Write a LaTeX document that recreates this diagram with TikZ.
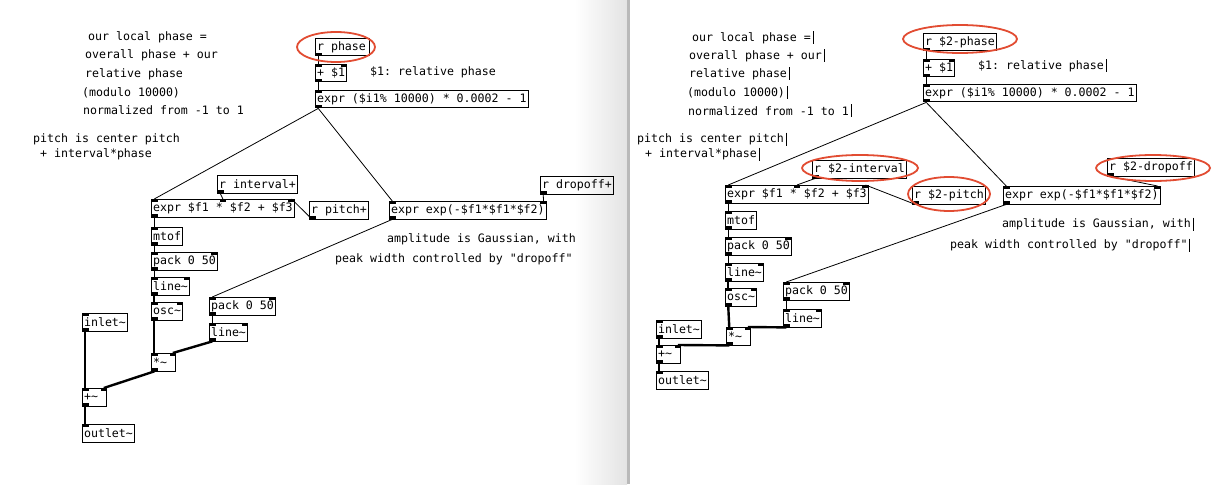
\documentclass[tikz,border=0pt]{standalone}
\usepackage{fontspec}
\newfontfamily\pdtt{DejaVu Sans Mono}
\definecolor{hlred}{RGB}{226,76,50}
\newcommand\pdInL[1]{\fill (#1.north west) rectangle ++(6.5,3);}
\newcommand\pdInR[1]{\fill (#1.north east) rectangle ++(-6.5,3);}
\newcommand\pdInM[1]{\fill ([xshift=-3.25pt]#1.north) rectangle ++(6.5,3);}
\newcommand\pdOutL[1]{\fill (#1.south west) rectangle ++(6.5,-3);}
\newcommand\tl{\textasciitilde}
\frenchspacing
\begin{document}
\begin{tikzpicture}[x=1pt,y=-1pt,
  pdbox/.style={draw, line width=0.9pt, font=\pdtt\fontsize{11.6}{14}\selectfont, inner xsep=1.6pt, inner ysep=0pt, minimum height=17.5pt, anchor=north west},
  pdcom/.style={font=\pdtt\fontsize{11.6}{14}\selectfont, inner sep=0pt, anchor=west},
  ctl/.style={line width=0.8pt},
  sig/.style={line width=2.4pt},
  hl/.style={draw=hlred, line width=1.8pt},
  editbar/.style={line width=0.8pt}]
\useasboundingbox (0,0) rectangle (1222,484);
\fill[white] (0,0) rectangle (1222,484);
\shade[left color=white, right color=gray!22] (575,0) rectangle (627,484);
\fill[gray!55] (627,0) rectangle (630,484);

% ---------------- left panel ----------------
\node[pdcom] (Lc1) at (88,37) {our local phase =};
\node[pdcom] (Lc2) at (85,55) {overall phase + our};
\node[pdcom] (Lc3) at (85,74) {relative phase};
\node[pdcom] (Lc4) at (82,93) {(modulo 10000)};
\node[pdcom] (Lc5) at (83,110) {normalized from -1 to 1};
\node[pdcom] (Lc6) at (33,139) {pitch is center pitch};
\node[pdcom] (Lc7) at (40,154) {+ interval*phase};
\node[pdcom] (Lc8) at (370,72) {\$1: relative phase};
\node[pdcom] (Lc9) at (387,239) {amplitude is Gaussian, with};
\node[pdcom] (Lc10) at (335,259) {peak width controlled by "dropoff"};

\node[pdbox] (Lrph) at (315,38) {r phase\,};
\node[pdbox] (Lplus) at (315,64) {+ \$1};
\node[pdbox] (Lexpr) at (315,90) {expr (\$i1\% 10000) * 0.0002 - 1};
\node[pdbox] (Lint) at (217,175) {r interval+};
\node[pdbox] (Lef) at (151,199) {expr \$f1 * \$f2 + \$f3};
\node[pdbox] (Lpit) at (309,201) {r pitch+};
\node[pdbox] (Lexp) at (389,201) {expr exp(-\$f1*\$f1*\$f2)};
\node[pdbox] (Ldrop) at (540,176) {r dropoff+};
\node[pdbox] (Lmtof) at (151,227) {mtof};
\node[pdbox] (Lpack) at (151,252) {pack 0 50};
\node[pdbox] (Lline) at (151,277) {line\tl};
\node[pdbox] (Losc) at (151,302) {osc\tl};
\node[pdbox] (Lpack2) at (209,297) {pack 0 50};
\node[pdbox] (Lline2) at (209,323) {line\tl};
\node[pdbox] (Linl) at (82,313) {inlet\tl};
\node[pdbox] (Lmul) at (151,353) {*\tl\phantom{x}};
\node[pdbox] (Ladd) at (82,388) {+\tl\phantom{x}};
\node[pdbox] (Lout) at (82,424) {outlet\tl};

\pdOutL{Lrph}
\pdInL{Lplus}\pdInR{Lplus}\pdOutL{Lplus}
\pdInL{Lexpr}\pdOutL{Lexpr}
\pdOutL{Lint}
\pdInL{Lef}\pdInM{Lef}\pdInR{Lef}\pdOutL{Lef}
\pdOutL{Lpit}
\pdInL{Lexp}\pdInR{Lexp}\pdOutL{Lexp}
\pdOutL{Ldrop}
\pdInL{Lmtof}\pdOutL{Lmtof}
\pdInL{Lpack}\pdInR{Lpack}\pdOutL{Lpack}
\pdInL{Lline}\pdInR{Lline}\pdOutL{Lline}
\pdInL{Losc}\pdInR{Losc}\pdOutL{Losc}
\pdInL{Lpack2}\pdInR{Lpack2}\pdOutL{Lpack2}
\pdInL{Lline2}\pdInR{Lline2}\pdOutL{Lline2}
\pdInL{Linl}\pdOutL{Linl}
\pdInL{Lmul}\pdInR{Lmul}\pdOutL{Lmul}
\pdInL{Ladd}\pdInR{Ladd}\pdOutL{Ladd}
\pdInL{Lout}

\draw[ctl] ([xshift=3.25pt]Lrph.south west) -- ([xshift=3.25pt]Lplus.north west);
\draw[ctl] ([xshift=3.25pt]Lplus.south west) -- ([xshift=3.25pt]Lexpr.north west);
\draw[ctl] ([xshift=3.25pt]Lexpr.south west) -- ([xshift=3.25pt]Lef.north west);
\draw[ctl] ([xshift=3.25pt]Lexpr.south west) -- ([xshift=3.25pt]Lexp.north west);
\draw[ctl] ([xshift=3.25pt]Lint.south west) -- (Lef.north);
\draw[ctl] ([xshift=3.25pt]Lpit.south west) -- ([xshift=-3.25pt]Lef.north east);
\draw[ctl] ([xshift=3.25pt]Ldrop.south west) -- ([xshift=-3.25pt]Lexp.north east);
\draw[ctl] ([xshift=3.25pt]Lef.south west) -- ([xshift=3.25pt]Lmtof.north west);
\draw[ctl] ([xshift=3.25pt]Lmtof.south west) -- ([xshift=3.25pt]Lpack.north west);
\draw[ctl] ([xshift=3.25pt]Lpack.south west) -- ([xshift=3.25pt]Lline.north west);
\draw[ctl] ([xshift=3.25pt]Lexp.south west) -- ([xshift=3.25pt]Lpack2.north west);
\draw[ctl] ([xshift=3.25pt]Lpack2.south west) -- ([xshift=3.25pt]Lline2.north west);
\draw[sig] ([xshift=3.25pt]Lline.south west) -- ([xshift=3.25pt]Losc.north west);
\draw[sig] ([xshift=3.25pt]Losc.south west) -- ([xshift=3.25pt]Lmul.north west);
\draw[sig] ([xshift=3.25pt]Lline2.south west) -- ([xshift=-3.25pt]Lmul.north east);
\draw[sig] ([xshift=3.25pt]Lmul.south west) -- ([xshift=-3.25pt]Ladd.north east);
\draw[sig] ([xshift=3.25pt]Linl.south west) -- ([xshift=3.25pt]Ladd.north west);
\draw[sig] ([xshift=3.25pt]Ladd.south west) -- ([xshift=3.25pt]Lout.north west);

\draw[hl] (336,47) ellipse [x radius=39pt, y radius=15pt];

% ---------------- right panel ----------------
\node[pdcom] (Rc1) at (692,38) {our local phase =};
\node[pdcom] (Rc2) at (689,56) {overall phase + our};
\node[pdcom] (Rc3) at (689,74) {relative phase};
\node[pdcom] (Rc4) at (687,93) {(modulo 10000)};
\node[pdcom] (Rc5) at (688,111) {normalized from -1 to 1};
\node[pdcom] (Rc6) at (637,139) {pitch is center pitch};
\node[pdcom] (Rc7) at (645,154) {+ interval*phase};
\node[pdcom] (Rc8) at (978,66) {\$1: relative phase};
\node[pdcom] (Rc9) at (1002,224) {amplitude is Gaussian, with};
\node[pdcom] (Rc10) at (950,245) {peak width controlled by "dropoff"};
\foreach \c in {Rc1,Rc2,Rc3,Rc4,Rc5,Rc6,Rc7,Rc8,Rc9,Rc10}
  \draw[editbar] ([xshift=2pt]\c.east) ++(0,-6.5) -- ++(0,13);

\node[pdbox] (Rrph) at (923,33) {r \$2-phase};
\node[pdbox] (Rplus) at (923,59) {+ \$1};
\node[pdbox] (Rexpr) at (923,84) {expr (\$i1\% 10000) * 0.0002 - 1};
\node[pdbox] (Rint) at (812,160) {r \$2-interval};
\node[pdbox] (Ref) at (725,185) {expr \$f1 * \$f2 + \$f3};
\node[pdbox] (Rpit) at (912,186) {r \$2-pitch};
\node[pdbox] (Rexp) at (1003,186) {expr exp(-\$f1*\$f1*\$f2)};
\node[pdbox] (Rdrop) at (1107,158) {r \$2-dropoff};
\node[pdbox] (Rmtof) at (725,211) {mtof};
\node[pdbox] (Rpack) at (725,237) {pack 0 50};
\node[pdbox] (Rline) at (725,263) {line\tl};
\node[pdbox] (Rosc) at (725,288) {osc\tl};
\node[pdbox] (Rpack2) at (783,282) {pack 0 50};
\node[pdbox] (Rline2) at (783,309) {line\tl};
\node[pdbox] (Rinl) at (656,320) {inlet\tl};
\node[pdbox] (Rmul) at (726,327) {*\tl\phantom{x}};
\node[pdbox] (Radd) at (656,345) {+\tl\phantom{x}};
\node[pdbox] (Rout) at (656,371) {outlet\tl};

\pdOutL{Rrph}
\pdInL{Rplus}\pdInR{Rplus}\pdOutL{Rplus}
\pdInL{Rexpr}\pdOutL{Rexpr}
\pdOutL{Rint}
\pdInL{Ref}\pdInM{Ref}\pdInR{Ref}\pdOutL{Ref}
\pdOutL{Rpit}
\pdInL{Rexp}\pdInR{Rexp}\pdOutL{Rexp}
\pdOutL{Rdrop}
\pdInL{Rmtof}\pdOutL{Rmtof}
\pdInL{Rpack}\pdInR{Rpack}\pdOutL{Rpack}
\pdInL{Rline}\pdInR{Rline}\pdOutL{Rline}
\pdInL{Rosc}\pdInR{Rosc}\pdOutL{Rosc}
\pdInL{Rpack2}\pdInR{Rpack2}\pdOutL{Rpack2}
\pdInL{Rline2}\pdInR{Rline2}\pdOutL{Rline2}
\pdInL{Rinl}\pdOutL{Rinl}
\pdInL{Rmul}\pdInR{Rmul}\pdOutL{Rmul}
\pdInL{Radd}\pdInR{Radd}\pdOutL{Radd}
\pdInL{Rout}

\draw[ctl] ([xshift=3.25pt]Rrph.south west) -- ([xshift=3.25pt]Rplus.north west);
\draw[ctl] ([xshift=3.25pt]Rplus.south west) -- ([xshift=3.25pt]Rexpr.north west);
\draw[ctl] ([xshift=3.25pt]Rexpr.south west) -- ([xshift=3.25pt]Ref.north west);
\draw[ctl] ([xshift=3.25pt]Rexpr.south west) -- ([xshift=3.25pt]Rexp.north west);
\draw[ctl] ([xshift=3.25pt]Rint.south west) -- (Ref.north);
\draw[ctl] ([xshift=3.25pt]Rpit.south west) -- ([xshift=-3.25pt]Ref.north east);
\draw[ctl] ([xshift=3.25pt]Rdrop.south west) -- ([xshift=-3.25pt]Rexp.north east);
\draw[ctl] ([xshift=3.25pt]Ref.south west) -- ([xshift=3.25pt]Rmtof.north west);
\draw[ctl] ([xshift=3.25pt]Rmtof.south west) -- ([xshift=3.25pt]Rpack.north west);
\draw[ctl] ([xshift=3.25pt]Rpack.south west) -- ([xshift=3.25pt]Rline.north west);
\draw[ctl] ([xshift=3.25pt]Rexp.south west) -- ([xshift=3.25pt]Rpack2.north west);
\draw[ctl] ([xshift=3.25pt]Rpack2.south west) -- ([xshift=3.25pt]Rline2.north west);
\draw[sig] ([xshift=3.25pt]Rline.south west) -- ([xshift=3.25pt]Rosc.north west);
\draw[sig] ([xshift=3.25pt]Rosc.south west) -- ([xshift=3.25pt]Rmul.north west);
\draw[sig] ([xshift=3.25pt]Rline2.south west) -- ([xshift=-3.25pt]Rmul.north east);
\draw[sig] ([xshift=3.25pt]Rmul.south west) -- ([xshift=-3.25pt]Radd.north east);
\draw[sig] ([xshift=3.25pt]Rinl.south west) -- ([xshift=3.25pt]Radd.north west);
\draw[sig] ([xshift=3.25pt]Radd.south west) -- ([xshift=3.25pt]Rout.north west);

\draw[hl] (960,39) ellipse [x radius=57pt, y radius=14pt];
\draw[hl] (860,168) ellipse [x radius=58pt, y radius=13pt];
\draw[hl] (949,194) ellipse [x radius=41pt, y radius=17pt];
\draw[hl] (1153,168) ellipse [x radius=57pt, y radius=13pt];
\end{tikzpicture}
\end{document}
